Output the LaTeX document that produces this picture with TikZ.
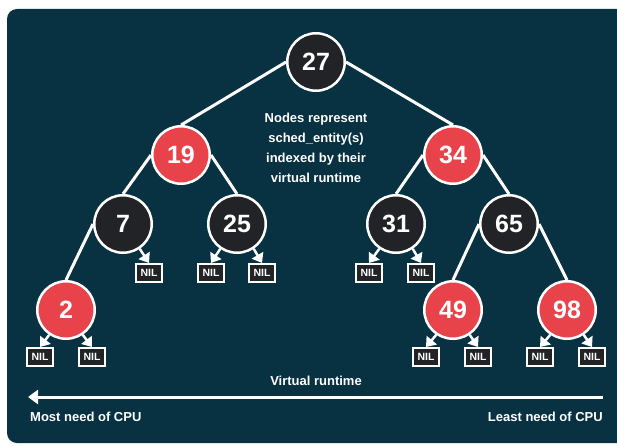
\documentclass[tikz,border=0pt]{standalone}
\usepackage{fontspec}
\setmainfont{Liberation Sans}
\usetikzlibrary{arrows.meta}
\definecolor{bgteal}{HTML}{083242}
\definecolor{nodered}{HTML}{E8434A}
\definecolor{nodeblack}{HTML}{222326}
\pgfdeclarelayer{back}
\pgfsetlayers{back,main}
\begin{document}
\begin{tikzpicture}[x=1pt,y=-1pt,
  vnode/.style={circle, draw=white, line width=2.5pt, minimum size=57.5pt, inner sep=0pt, text=white, font=\bfseries\fontsize{25}{25}\selectfont},
  blk/.style={vnode, fill=nodeblack},
  rd/.style={vnode, fill=nodered},
  nilbox/.style={rectangle, draw=white, line width=2pt, fill=nodeblack, minimum width=26pt, minimum height=18pt, inner sep=0pt, text=white, font=\bfseries\fontsize{10.5}{10.5}\selectfont},
  edge/.style={draw=white, line width=3pt},
  nilarrow/.style={draw=white, line width=2.5pt, -{Triangle[width=13pt,length=9pt]}},
  lbl/.style={text=white, font=\bfseries\fontsize{13}{13}\selectfont}
]
\useasboundingbox (0,0) rectangle (617,446);
\begin{pgfonlayer}{back}
\fill[white] (0,0) rectangle (617,446);
\begin{scope}
\clip (0,0) rectangle (617,446);
\fill[bgteal, rounded corners=10pt] (7,9) rectangle (640,443);
\end{scope}
\end{pgfonlayer}

% tree nodes
\node[blk] (n27) at (316,62) {27};
\node[rd]  (n19) at (181,155) {19};
\node[rd]  (n34) at (453,155) {34};
\node[blk] (n7)  at (123,224) {7};
\node[blk] (n25) at (237,224) {25};
\node[blk] (n31) at (396,224) {31};
\node[blk] (n65) at (509,224) {65};
\node[rd]  (n2)  at (66,310) {2};
\node[rd]  (n49) at (453,310) {49};
\node[rd]  (n98) at (567,310) {98};

% NIL leaves
\node[nilbox] (l7b)  at (149,273) {NIL};
\node[nilbox] (l25a) at (211,273) {NIL};
\node[nilbox] (l25b) at (262,273) {NIL};
\node[nilbox] (l31a) at (369,273) {NIL};
\node[nilbox] (l31b) at (421,273) {NIL};
\node[nilbox] (l2a)  at (40,357) {NIL};
\node[nilbox] (l2b)  at (92,357) {NIL};
\node[nilbox] (l49a) at (426,357) {NIL};
\node[nilbox] (l49b) at (478,357) {NIL};
\node[nilbox] (l98a) at (540,357) {NIL};
\node[nilbox] (l98b) at (592,357) {NIL};

% arrows to NIL
\draw[nilarrow] (n7.-56)   -- (l7b.north);
\draw[nilarrow] (n25.-124) -- (l25a.north);
\draw[nilarrow] (n25.-56)  -- (l25b.north);
\draw[nilarrow] (n31.-124) -- (l31a.north);
\draw[nilarrow] (n31.-56)  -- (l31b.north);
\draw[nilarrow] (n2.-124)  -- (l2a.north);
\draw[nilarrow] (n2.-56)   -- (l2b.north);
\draw[nilarrow] (n49.-124) -- (l49a.north);
\draw[nilarrow] (n49.-56)  -- (l49b.north);
\draw[nilarrow] (n98.-124) -- (l98a.north);
\draw[nilarrow] (n98.-56)  -- (l98b.north);

% tree edges behind nodes
\begin{pgfonlayer}{back}
\draw[edge] (n27.west) -- (n19.north);
\draw[edge] (n27.east) -- (n34.north);
\draw[edge] (n19.west) -- (n7.north);
\draw[edge] (n19.east) -- (n25.north);
\draw[edge] (n34.west) -- (n31.north);
\draw[edge] (n34.east) -- (n65.north);
\draw[edge] (n7.west)  -- (n2.north);
\draw[edge] (n65.west) -- (n49.north);
\draw[edge] (n65.east) -- (n98.north);
\end{pgfonlayer}

% description
\node[lbl, align=center, font=\bfseries\fontsize{13}{20}\selectfont] (desc) at (316,148)
  {Nodes represent\\sched\_entity(s)\\indexed by their\\virtual runtime};

% runtime axis
\coordinate (arrR) at (603,397);
\coordinate (arrL) at (28,397);
\draw[white, line width=3pt, -{Triangle[width=14pt,length=10pt]}] (arrR) -- (arrL);
\node[lbl] (vr) at (316,381) {Virtual runtime};
\node[lbl, anchor=west, inner sep=0pt] (most) at (30,417) {Most need of CPU};
\node[lbl, anchor=east, inner sep=0pt] (least) at (603,417) {Least need of CPU};
\end{tikzpicture}
\end{document}
